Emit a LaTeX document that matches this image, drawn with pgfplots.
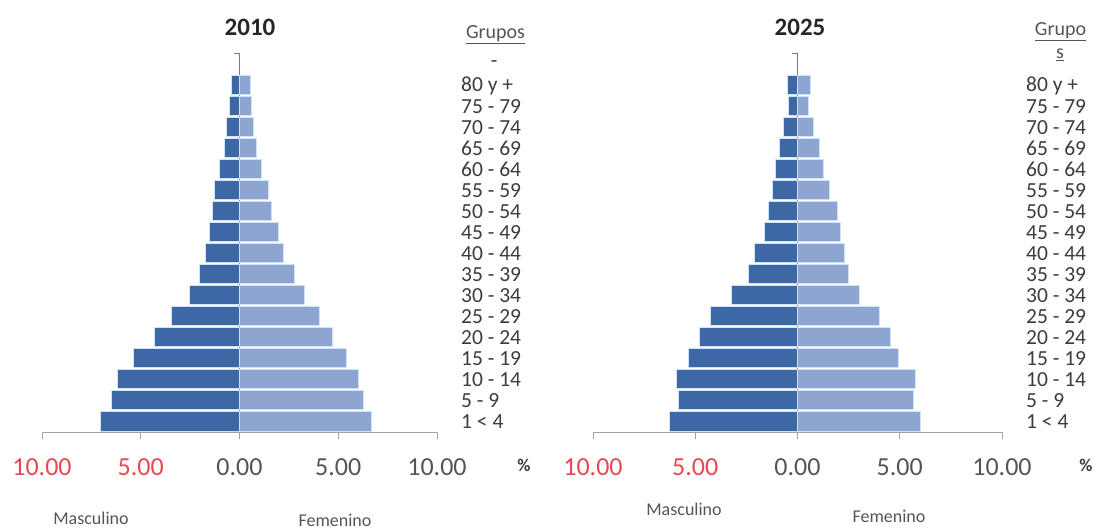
\documentclass[border=0pt]{standalone}
\usepackage{fontspec}
\setmainfont{Carlito}
\usepackage{pgfplots}
\usepackage{pgfplotstable}
\pgfplotsset{compat=1.18}
\definecolor{male}{RGB}{62,103,166}
\definecolor{female}{RGB}{143,165,209}
\definecolor{sepc}{RGB}{205,228,248}
\definecolor{tred}{RGB}{232,72,82}
\definecolor{tgray}{RGB}{85,85,85}
\definecolor{lgray}{RGB}{60,60,60}
\definecolor{axgray}{RGB}{165,165,165}
\definecolor{vgray}{RGB}{120,120,120}

% 2010 (index 0 = 1<4 ... 16 = 80 y +)
\pgfplotstableread{
idx male female
0  -7.05 6.66
1  -6.48 6.30
2  -6.19 6.04
3  -5.36 5.42
4  -4.31 4.71
5  -3.43 4.03
6  -2.52 3.29
7  -2.02 2.77
8  -1.71 2.22
9  -1.53 1.98
10 -1.37 1.63
11 -1.28 1.48
12 -1.01 1.12
13 -0.76 0.84
14 -0.65 0.72
15 -0.53 0.62
16 -0.39 0.58
}\dataA
% 2025
\pgfplotstableread{
idx male female
0  -6.25 6.02
1  -5.82 5.65
2  -5.93 5.77
3  -5.32 4.92
4  -4.80 4.54
5  -4.26 3.99
6  -3.21 3.02
7  -2.38 2.47
8  -2.08 2.28
9  -1.59 2.10
10 -1.40 1.94
11 -1.21 1.58
12 -1.09 1.26
13 -0.86 1.08
14 -0.70 0.80
15 -0.42 0.55
16 -0.50 0.64
}\dataB

\newcommand{\agefont}{\fontsize{21.5bp}{21.5bp}\selectfont}
\pgfplotsset{pyr/.style={
  scale only axis, height=378bp,
  xmin=-10, xmax=10, ymin=-0.5, ymax=17.5,
  axis x line*=bottom, axis y line*=right,
  y axis line style={draw=none},
  x axis line style={draw=axgray, line width=1bp},
  xtick={-10,-5,0,5,10},
  xticklabels={\textcolor{tred}{10.00},\textcolor{tred}{5.00},0.00,5.00,10.00},
  xticklabel style={font=\fontsize{26bp}{26bp}\selectfont, text=tgray, anchor=center, yshift=-28bp},
  tick align=outside, major tick length=7bp,
  xtick style={draw=axgray, line width=1bp},
  ytick={0,...,17},
  ytick style={draw=none},
  yticklabel style={font=\agefont, text=lgray, anchor=west, xshift=17bp, inner xsep=0pt, inner ysep=0pt},
  clip=false,
}}

\begin{document}
\begin{tikzpicture}
\useasboundingbox (0,0) rectangle (1095bp,529bp);

\begin{axis}[pyr, width=395bp, at={(42bp,97bp)}, anchor=south west,
  yticklabels={1 < 4,5 - 9,10 - 14,15 - 19,20 - 24,25 - 29,30 - 34,35 - 39,40 - 44,45 - 49,50 - 54,55 - 59,60 - 64,65 - 69,70 - 74,75 - 79,80 y +,\makebox[66bp][c]{-}}]
  \draw[vgray, line width=1bp] (axis cs:0,-0.5) -- (axis cs:0,17.5) -- ++(-6bp,0bp);
  \addplot[xbar, bar width=19bp, bar shift=0pt, fill=male, draw=sepc, line width=1bp] table[x=male, y=idx] {\dataA};
  \addplot[xbar, bar width=19bp, bar shift=0pt, fill=female, draw=sepc, line width=1bp] table[x=female, y=idx] {\dataA};
\end{axis}

\begin{axis}[pyr, width=409bp, at={(593bp,97bp)}, anchor=south west,
  yticklabels={1 < 4,5 - 9,10 - 14,15 - 19,20 - 24,25 - 29,30 - 34,35 - 39,40 - 44,45 - 49,50 - 54,55 - 59,60 - 64,65 - 69,70 - 74,75 - 79,80 y +,{}}]
  \draw[vgray, line width=1bp] (axis cs:0,-0.5) -- (axis cs:0,17.5) -- ++(-6bp,0bp);
  \addplot[xbar, bar width=19bp, bar shift=0pt, fill=male, draw=sepc, line width=1bp] table[x=male, y=idx] {\dataB};
  \addplot[xbar, bar width=19bp, bar shift=0pt, fill=female, draw=sepc, line width=1bp] table[x=female, y=idx] {\dataB};
\end{axis}

% titles and annotations
\node[font=\bfseries\fontsize{25bp}{25bp}\selectfont, text=black!85] at (250bp,502bp) {2010};
\node[font=\bfseries\fontsize{25bp}{25bp}\selectfont, text=black!85] at (800bp,502bp) {2025};
\node[font=\fontsize{20bp}{20bp}\selectfont, text=tgray] at (495.5bp,494bp) {\underline{Grupos}};
\node[font=\fontsize{20bp}{20bp}\selectfont, text=tgray] at (1060.5bp,497bp) {\underline{Grupo}};
\node[font=\fontsize{20bp}{20bp}\selectfont, text=tgray] at (1060bp,474bp) {\underline{s}};
\node[font=\bfseries\fontsize{18bp}{18bp}\selectfont, text=lgray] at (524bp,64bp) {\%};
\node[font=\bfseries\fontsize{18bp}{18bp}\selectfont, text=lgray] at (1086bp,64bp) {\%};
\node[font=\fontsize{18bp}{18bp}\selectfont, text=tgray] at (91bp,11bp) {Masculino};
\node[font=\fontsize{18bp}{18bp}\selectfont, text=tgray] at (335bp,9bp) {Femenino};
\node[font=\fontsize{18bp}{18bp}\selectfont, text=tgray] at (684bp,20bp) {Masculino};
\node[font=\fontsize{18bp}{18bp}\selectfont, text=tgray] at (889bp,13bp) {Femenino};
\end{tikzpicture}
\end{document}
